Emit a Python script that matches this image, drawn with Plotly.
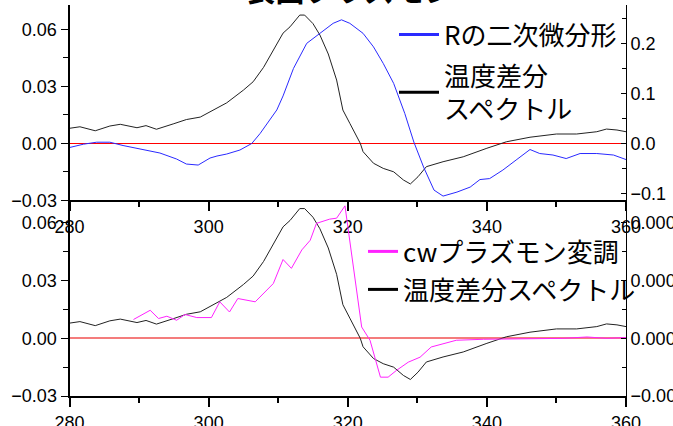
import plotly.graph_objects as go

# ---------------- data ----------------
wl_black = [280, 281.5, 283.7, 285.8, 287.3, 289.7, 291, 292.5, 294.9, 296.8, 298.8, 300.7, 302.6,
            305, 306.4, 307.9, 309.3, 310.7, 311.7, 313.1, 313.8, 315, 316, 317.2, 318.4, 318.9,
            319.3, 320.3, 321.8, 322.2, 323.7, 325.1, 326.6, 328, 329, 330.1, 331.3, 333.7, 336.6,
            340, 342.8, 346.2, 350, 352.9, 355.8, 357.2, 358.7, 360]
temp_diff = [0.0079, 0.0087, 0.0066, 0.0091, 0.0100, 0.0082, 0.0093, 0.0074, 0.0102, 0.0125, 0.0138,
             0.0175, 0.0213, 0.028, 0.0324, 0.040, 0.049, 0.058, 0.0613, 0.0675, 0.0675, 0.063, 0.057,
             0.047, 0.0333, 0.0245, 0.0175, 0.0105, 0.0, -0.0044, -0.0105, -0.0132, -0.015, -0.0193,
             -0.0214, -0.0176, -0.0123, -0.0097, -0.0071, -0.0026, 0.0008, 0.0032, 0.0049, 0.0049,
             0.0061, 0.0075, 0.007, 0.0061]

wl_blue = [280, 282, 283.9, 285.8, 287.7, 290.1, 293, 295.4, 296.8, 298.5, 300.2, 301.2, 302.6, 304.5,
           306.2, 307.4, 308.8, 309.8, 310.7, 312.2, 314.1, 316, 317.9, 319.1, 320.3, 322.2, 323.7,
           325.1, 326.6, 328.2, 329.5, 330.9, 332.4, 333.7, 335.7, 337.6, 339, 340.4, 342.3, 344.2,
           346.2, 347.6, 349.5, 351.4, 353.4, 355.8, 358.2, 360]
r_second_deriv = [-0.008, -0.0014, 0.0026, 0.0026, -0.004, -0.0114, -0.019, -0.031, -0.041, -0.043,
                  -0.029, -0.025, -0.021, -0.013, 0.0, 0.02, 0.047, 0.067, 0.095, 0.15, 0.2, 0.22,
                  0.24, 0.247, 0.24, 0.22, 0.193, 0.16, 0.12, 0.06, 0.003, -0.047, -0.093, -0.105,
                  -0.097, -0.087, -0.072, -0.07, -0.053, -0.033, -0.012, -0.02, -0.023, -0.03, -0.02,
                  -0.02, -0.023, -0.032]

wl_cw = [289.2, 291.6, 292.8, 294, 295.4, 296.6, 298.3, 300.4, 301.6, 303, 304.2, 306.7, 309.3, 310.7,
         311.9, 313.4, 314.6, 315.5, 317.4, 318.4, 319.6, 322, 323.2, 324.7, 325.8, 327, 328.7, 330.4,
         332, 333.7, 335.6, 339.5, 342.4, 346.2, 351, 354.4, 357.2, 360]
cw_modulation = [0.000098, 0.000146, 0.000103, 0.000115, 0.000094, 0.000124, 0.000108, 0.000108,
                 0.000190, 0.000137, 0.000207, 0.000190, 0.000285, 0.000410, 0.000364, 0.000460,
                 0.000510, 0.000598, 0.000620, 0.000625, 0.000689, 0.000059, -0.000010, -0.000202,
                 -0.000202, -0.000167, -0.000124, -0.000098, -0.000045, -0.000028, -0.000010,
                 -0.000005, -0.000004, -0.000004, 0.0, 0.000007, 0.0, 0.000004]

legend_top = ["Rの二次微分形", "温度差分<br>スペクトル"]
legend_bottom = ["cwプラズモン変調", "温度差分スペクトル"]
title_text = "表面プラズモン"

# ---------------- layout geometry ----------------
W, H = 673, 426
XD = [69.5 / W, 626 / W]
TOPD = [1 - 200.3 / H, 1 - 5 / H]
BOTD = [1 - 396 / H, 1 - 200.3 / H]

BLACK = "#222222"
BLUE = "#2a2aff"
MAGENTA = "#ff22ff"
TICKFONT = dict(family="Liberation Sans, Arial, sans-serif", size=18, color="black")
LEGFONT = dict(family="Noto Sans CJK JP", size=26, color="black")

fig = go.Figure()

fig.add_trace(go.Scatter(x=wl_black, y=temp_diff, mode="lines", line=dict(color=BLACK, width=1),
                         xaxis="x", yaxis="y", showlegend=False))
fig.add_trace(go.Scatter(x=wl_blue, y=r_second_deriv, mode="lines", line=dict(color=BLUE, width=1),
                         xaxis="x", yaxis="y2", showlegend=False))
fig.add_trace(go.Scatter(x=wl_black, y=temp_diff, mode="lines", line=dict(color=BLACK, width=1),
                         xaxis="x2", yaxis="y3", showlegend=False))
fig.add_trace(go.Scatter(x=wl_cw, y=cw_modulation, mode="lines", line=dict(color=MAGENTA, width=1),
                         xaxis="x2", yaxis="y4", showlegend=False))

# legend-only entries (each in its own legend box for exact placement)
fig.add_trace(go.Scatter(x=[None], y=[None], mode="lines", line=dict(color=BLUE, width=3),
                         name=legend_top[0], legend="legend", xaxis="x", yaxis="y"))
fig.add_trace(go.Scatter(x=[None], y=[None], mode="lines", line=dict(color="black", width=3),
                         name=legend_top[1], legend="legend2", xaxis="x", yaxis="y"))
fig.add_trace(go.Scatter(x=[None], y=[None], mode="lines", line=dict(color=MAGENTA, width=3),
                         name=legend_bottom[0], legend="legend3", xaxis="x2", yaxis="y3"))
fig.add_trace(go.Scatter(x=[None], y=[None], mode="lines", line=dict(color="black", width=3),
                         name=legend_bottom[1], legend="legend4", xaxis="x2", yaxis="y3"))

xcommon = dict(domain=XD, range=[280, 360], dtick=20, tick0=280, showgrid=False, zeroline=False,
               tickfont=TICKFONT, ticklen=9, tickwidth=1.5, tickcolor="black", automargin=False)

# top panel axes
fig.update_layout(
    xaxis=dict(**xcommon, anchor="y", ticks="outside", showline=True, linewidth=2, linecolor="black",
               minor=dict(dtick=10, tick0=280, ticks="outside", ticklen=5, tickcolor="black")),
    xaxis3=dict(**xcommon, anchor="y", overlaying="x", ticks="inside", showline=False,
                showticklabels=False,
                minor=dict(dtick=10, tick0=280, ticks="inside", ticklen=5, tickcolor="black")),
    xaxis5=dict(**xcommon, anchor="y", overlaying="x", side="top", ticks="inside", showline=True,
                linewidth=1, linecolor="black", showticklabels=False,
                minor=dict(dtick=10, tick0=280, ticks="inside", ticklen=5, tickcolor="black")),
    yaxis=dict(domain=TOPD, anchor="x", range=[-0.03, 0.0728], dtick=0.03, tick0=0, tickformat=".2f",
               ticks="outside", ticklen=7, tickcolor="black", tickfont=TICKFONT, showgrid=False,
               showline=True, linewidth=2, linecolor="black", automargin=False,
               zeroline=True, zerolinecolor="#ff0000", zerolinewidth=1,
               minor=dict(dtick=0.015, tick0=0, ticks="outside", ticklen=5, tickcolor="black")),
    yaxis2=dict(anchor="x", overlaying="y", side="right", range=[-0.1134, 0.2766], dtick=0.1, tick0=0,
                tickformat=".1f", ticks="inside", ticklen=5, tickcolor="black", tickfont=TICKFONT,
                showgrid=False, zeroline=False, showline=True, linewidth=1, linecolor="black",
                automargin=False,
                minor=dict(dtick=0.05, tick0=0, ticks="inside", ticklen=4, tickcolor="black")),
    # bottom panel axes
    xaxis2=dict(**xcommon, anchor="y3", ticks="outside", showline=True, linewidth=2, linecolor="black",
                minor=dict(dtick=10, tick0=280, ticks="outside", ticklen=5, tickcolor="black")),
    xaxis4=dict(**xcommon, anchor="y3", overlaying="x2", ticks="inside", showline=False,
                showticklabels=False,
                minor=dict(dtick=10, tick0=280, ticks="inside", ticklen=5, tickcolor="black")),
    yaxis3=dict(domain=BOTD, anchor="x2", range=[-0.03, 0.0718], dtick=0.03, tick0=0, tickformat=".2f",
                ticks="outside", ticklen=7, tickcolor="black", tickfont=TICKFONT, showgrid=False,
                showline=True, linewidth=2, linecolor="black", automargin=False,
                zeroline=True, zerolinecolor="#f47c7c", zerolinewidth=1.5,
                minor=dict(dtick=0.015, tick0=0, ticks="outside", ticklen=5, tickcolor="black")),
    yaxis4=dict(anchor="x2", overlaying="y3", side="right", range=[-0.0003, 0.000718], dtick=0.0003,
                tick0=0, tickformat=".4f", ticks="inside", ticklen=5, tickcolor="black",
                tickfont=TICKFONT, showgrid=False, zeroline=False, showline=True, linewidth=1,
                linecolor="black", automargin=False,
                minor=dict(dtick=0.00015, tick0=0, ticks="inside", ticklen=4, tickcolor="black")),
)

leg_common = dict(xanchor="left", yanchor="top", font=LEGFONT, bgcolor="rgba(0,0,0,0)",
                  borderwidth=0, tracegroupgap=0)

fig.update_layout(
    width=W, height=H, margin=dict(l=0, r=0, t=0, b=0, pad=0, autoexpand=False),
    paper_bgcolor="white", plot_bgcolor="white",
    legend=dict(x=394 / W, y=1 - 11 / H, itemwidth=40, **leg_common),
    legend2=dict(x=394 / W, y=1 - 52 / H, itemwidth=40, **leg_common),
    legend3=dict(x=363 / W, y=1 - 228 / H, itemwidth=30, **leg_common),
    legend4=dict(x=363 / W, y=1 - 266 / H, itemwidth=30, **leg_common),
    annotations=[dict(text="<b>" + title_text + "</b>", xref="paper", yref="paper",
                      x=243 / W, y=1 - 12 / H, xanchor="left", yanchor="bottom", showarrow=False,
                      font=dict(family="Noto Sans CJK JP", size=30, color="black"))],
)

fig.write_html("out.html", config={"displayModeBar": False},
               post_script="document.body.style.margin='0px';document.body.style.overflow='hidden';")
